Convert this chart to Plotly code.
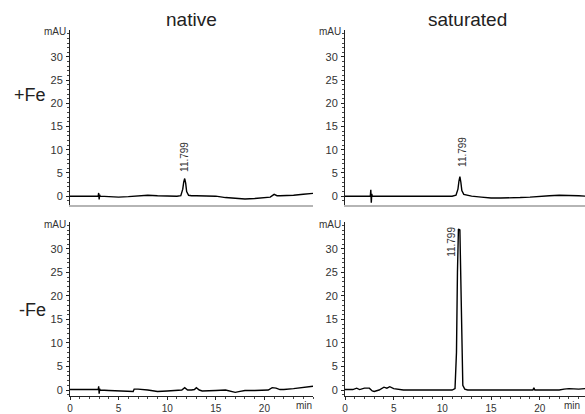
import plotly.graph_objects as go

# ---- data (time in min, signal in mAU) ----
native_fe_x = [0, 1, 2, 2.9, 2.95, 3.0, 3.05, 3.1, 4, 5, 6, 7, 8, 9, 10, 11, 11.4, 11.6, 11.7,
               11.8, 11.9, 12.0, 12.2, 12.5, 13, 14, 15, 16, 17, 18, 19, 20, 20.6, 21, 21.3,
               21.6, 22, 23, 24, 25]
native_fe_y = [0, 0, 0, 0, 0.7, -0.7, 0.3, 0, -0.1, -0.2, -0.1, 0.1, 0.2, 0.1, 0, 0, 0.1, 1.5,
               3.0, 3.8, 2.8, 1.0, 0.2, 0.1, 0.1, 0.1, 0, -0.3, -0.5, -0.6, -0.5, -0.3, -0.2,
               0.4, 0.1, 0.1, 0.1, 0.2, 0.4, 0.6]

sat_fe_x = [0, 1, 2, 2.6, 2.65, 2.7, 2.75, 2.8, 4, 6, 8, 10, 11, 11.4, 11.6, 11.7, 11.8, 11.9,
            12.0, 12.2, 12.5, 13, 14, 15, 16, 17, 18, 19, 20, 21, 22, 23, 24, 24.7]
sat_fe_y = [0, 0, 0, 0, 1.4, -1.4, 0.5, 0, 0, 0, 0, 0, 0, 0.2, 1.5, 3.2, 4.2, 3.0, 1.2, 0.4,
            0.2, 0, -0.2, -0.4, -0.4, -0.4, -0.3, -0.2, 0, 0.1, 0.2, 0.2, 0.1, 0]

native_nofe_x = [0, 1, 2, 2.9, 2.95, 3.0, 3.05, 3.1, 4, 5, 6, 6.5, 6.6, 7, 8, 9, 10, 11, 11.5,
                 11.8, 12.1, 12.5, 12.8, 13.0, 13.3, 13.6, 14, 15, 16, 16.5, 17, 17.5, 18, 19,
                 20, 20.4, 20.8, 21.2, 21.6, 22, 23, 24, 25]
native_nofe_y = [0.1, 0.1, 0.1, 0.1, 0.8, -0.8, 0.3, 0, -0.1, -0.2, -0.3, -0.3, 0.2, 0.2, 0,
                 -0.3, -0.2, 0, 0, 0.5, 0, 0, 0.1, 0.5, 0, -0.2, -0.2, -0.1, 0, -0.2, -0.5,
                 -0.3, -0.1, -0.1, -0.1, 0, 0.5, 0.4, 0.1, 0.1, 0.3, 0.5, 0.8]

sat_nofe_x = [0, 0.8, 1.2, 1.5, 2.0, 2.5, 2.8, 3.0, 3.5, 4.0, 4.3, 4.6, 5.0, 5.5, 6, 8, 10,
              11.0, 11.3, 11.45, 11.55, 11.65, 11.8, 11.9, 12.0, 12.1, 12.3, 12.6, 14, 16,
              18, 19.3, 19.4, 19.5, 21, 22, 22.5, 23, 24, 24.7]
sat_nofe_y = [0.1, 0.1, 0.4, 0.1, 0.4, 0.4, -0.2, -0.3, 0.0, 0.6, 0.4, 0.7, 0.3, 0.1, 0, 0, 0,
              0, 0.3, 8, 25, 34.2, 34.0, 22, 6, 1.0, 0.2, 0, 0, 0, 0, 0, 0.5, 0, 0, 0, 0.2,
              0.3, 0.2, 0.3]

peak_label = "11.799"
col_titles = ["native", "saturated"]
row_titles = ["+Fe", "-Fe"]
ytick_vals = [0, 5, 10, 15, 20, 25, 30]
xtick_vals = [0, 5, 10, 15, 20]

W, H = 585, 414
def px(x): return x / W
def py(y): return 1 - y / H

fig = go.Figure()
panels = [
    ("x", "y", native_fe_x, native_fe_y),
    ("x2", "y2", sat_fe_x, sat_fe_y),
    ("x3", "y3", native_nofe_x, native_nofe_y),
    ("x4", "y4", sat_nofe_x, sat_nofe_y),
]
for xa, ya, xs, ys in panels:
    fig.add_trace(go.Scatter(x=xs, y=ys, mode="lines", xaxis=xa, yaxis=ya,
                             line=dict(color="black", width=1.4), showlegend=False,
                             hoverinfo="skip"))

tickfont = dict(family="Liberation Sans, Arial, sans-serif", size=11, color="#333")
xtickfont = dict(family="Liberation Sans, Arial, sans-serif", size=10, color="#333")
xdom_l = [px(70), px(313)]
xdom_r = [px(345), 1.0]
ydom_t = [py(205), py(30)]
ydom_b = [py(396), py(222)]

def yax(dom, rng, anchor):
    return dict(domain=dom, range=rng, anchor=anchor, showgrid=False, zeroline=False,
                showline=True, linecolor="#222", linewidth=1, ticks="outside", ticklen=3,
                tickcolor="#222", tickvals=ytick_vals, tickfont=tickfont, ticklabelstandoff=1,
                automargin=False,
                minor=dict(dtick=1, ticks="outside", ticklen=2, tickcolor="#444"))

def xax_top(dom, rng, anchor):
    return dict(domain=dom, range=rng, anchor=anchor, showgrid=False, zeroline=False,
                showline=True, linecolor="#b5b5b5", linewidth=2, ticks="",
                showticklabels=False, automargin=False)

def xax_bot(dom, rng, anchor):
    return dict(domain=dom, range=rng, anchor=anchor, showgrid=False, zeroline=False,
                showline=True, linecolor="#222", linewidth=1, ticks="outside", ticklen=3,
                tickcolor="#222", tickvals=xtick_vals, tickfont=xtickfont, automargin=False,
                ticklabelstandoff=0,
                minor=dict(dtick=1, ticks="outside", ticklen=2, tickcolor="#444"))

fig.update_layout(
    width=W, height=H, margin=dict(l=0, r=0, t=0, b=0),
    paper_bgcolor="white", plot_bgcolor="white",
    xaxis=xax_top(xdom_l, [0, 25], "y"),
    yaxis=yax(ydom_t, [-1.9, 35.8], "x"),
    xaxis2=xax_top(xdom_r, [0, 24.65], "y2"),
    yaxis2=yax(ydom_t, [-1.9, 35.8], "x2"),
    xaxis3=xax_bot(xdom_l, [0, 25], "y3"),
    yaxis3=yax(ydom_b, [-1.27, 35.7], "x3"),
    xaxis4=xax_bot(xdom_r, [0, 24.65], "y4"),
    yaxis4=yax(ydom_b, [-1.27, 35.7], "x4"),
)

big = dict(family="Liberation Sans, Arial, sans-serif", color="#222")
ann = []
def title(text, x, y, size):
    ann.append(dict(text=text, x=px(x), y=py(y), xref="paper", yref="paper",
                    xanchor="center", yanchor="middle", showarrow=False,
                    font=dict(size=size, **big)))
title(col_titles[0], 191, 20, 19)
title(col_titles[1], 467, 20, 19)
title(row_titles[0], 30, 95, 18)
title(row_titles[1], 32, 310, 18)
small = dict(family="Liberation Sans, Arial, sans-serif", size=10, color="#333")
for xp, ya, yv in [(68, "y", 35.4), (343, "y2", 35.4), (68, "y3", 35.1), (343, "y4", 35.1)]:
    ann.append(dict(text="mAU", x=px(xp), y=yv, xref="paper", yref=ya, xanchor="right",
                    yanchor="middle", showarrow=False, font=small))
ann.append(dict(text="min", x=px(314), y=py(405), xref="paper", yref="paper",
                xanchor="right", yanchor="middle", showarrow=False, font=xtickfont))
ann.append(dict(text="min", x=px(562), y=py(405), xref="paper", yref="paper",
                xanchor="left", yanchor="middle", showarrow=False, font=xtickfont))
lab = dict(family="Liberation Sans, Arial, sans-serif", size=10, color="#333")
for xa, ya, xv, yv in [("x", "y", 11.7, 8.4), ("x2", "y2", 12.0, 9.5), ("x4", "y4", 11.0, 31.5)]:
    ann.append(dict(text=peak_label, x=xv, y=yv, xref=xa, yref=ya, textangle=-90,
                    xanchor="center", yanchor="middle", showarrow=False, font=lab))
fig.update_layout(annotations=ann)

fig.write_html("out.html", config={"displayModeBar": False},
               post_script="document.body.style.margin='0px';document.body.style.overflow='hidden';")
